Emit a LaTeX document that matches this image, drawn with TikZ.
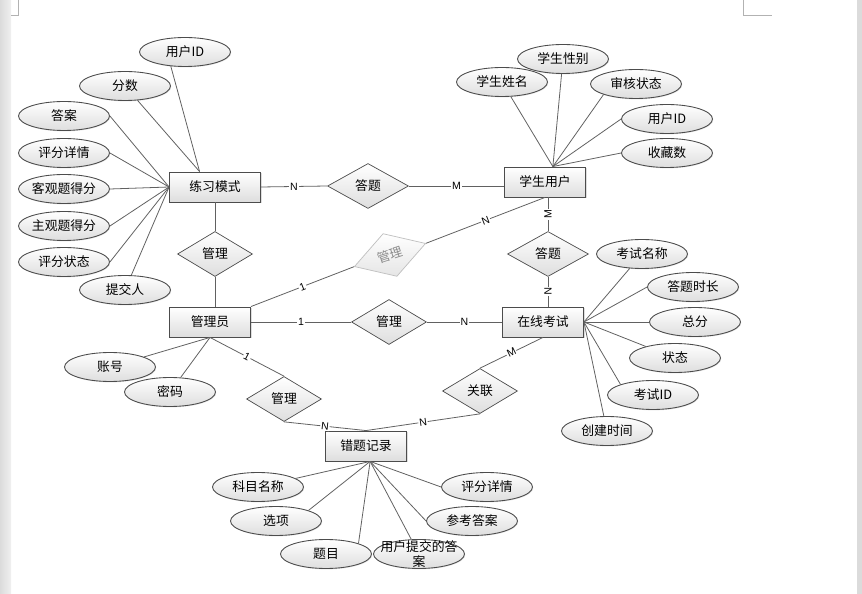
\documentclass[tikz,border=0pt]{standalone}
\usepackage{fontspec}
\setmainfont{Noto Sans CJK SC}
\newfontfamily\cardfont{Liberation Sans}
\usetikzlibrary{shapes.geometric,shadows}
\definecolor{LineClr}{rgb}{0.38,0.38,0.38}
\definecolor{EdgeClr}{rgb}{0.3,0.3,0.3}
\definecolor{ShadeClr}{rgb}{0.87,0.87,0.87}
\definecolor{FadeClr}{rgb}{0.75,0.75,0.75}
\definecolor{PageClr}{rgb}{0.86,0.86,0.86}

\begin{document}
\begin{tikzpicture}[x=0.02cm,y=-0.02cm,
  font=\fontsize{7.3}{8.6}\selectfont,
  ent/.style={rectangle,draw=EdgeClr,line width=0.5pt,top color=white,bottom color=ShadeClr,
    minimum width=1.62cm,minimum height=0.6cm,inner sep=0pt,
    drop shadow={shadow xshift=0.6pt,shadow yshift=-0.6pt,fill=black!25}},
  rel/.style={diamond,draw=EdgeClr,line width=0.4pt,top color=white,bottom color=ShadeClr,
    minimum width=1.5cm,minimum height=0.9cm,inner sep=0pt},
  faded/.style={draw=FadeClr,top color=white,bottom color=black!10,text=black!45},
  attr/.style={ellipse,draw=EdgeClr,line width=0.5pt,top color=white,bottom color=ShadeClr,
    minimum width=1.82cm,minimum height=0.58cm,inner sep=0pt,
    drop shadow={shadow xshift=0.4pt,shadow yshift=-0.5pt,fill=black!20}},
  card/.style={fill=white,inner sep=0.5pt,font=\cardfont\fontsize{6}{7}\selectfont},
  link/.style={draw=LineClr,line width=0.45pt}]

\useasboundingbox (0,0) rectangle (862,594);
\fill[white] (0,0) rectangle (862,594);
\shade[left color=PageClr,right color=black!6] (0,0) rectangle (11,594);
\fill[PageClr] (857,0) rectangle (862,594);
\draw[black!30,line width=0.4pt] (18,0) -- (18,15) -- (11,15);
\draw[black!30,line width=0.4pt] (743,0) -- (743,15) -- (772,15);

\node[ent,minimum width=1.82cm] (lx) at (215,187) {练习模式};
\node[ent] (xs) at (545,182) {学生用户};
\node[ent] (gly) at (210,322) {管理员};
\node[ent] (zx) at (543,322) {在线考试};
\node[ent] (ct) at (366,446) {错题记录};

\node[rel,minimum width=1.62cm] (dt1) at (368,186) {答题};
\node[rel] (gl1) at (215,254) {管理};
\node[rel,faded,rotate=18] (gl2) at (390,255) {管理};
\node[rel,minimum width=1.62cm] (dt2) at (548,254) {答题};
\node[rel] (gl3) at (389,322) {管理};
\node[rel] (gl4) at (284,399) {管理};
\node[rel] (gll) at (480,391) {关联};

\node[attr] (a1) at (185,52) {用户ID};
\node[attr] (a2) at (125,86) {分数};
\node[attr] (a3) at (64,116) {答案};
\node[attr] (a4) at (64,153) {评分详情};
\node[attr] (a5) at (64,189) {客观题得分};
\node[attr] (a6) at (64,226) {主观题得分};
\node[attr] (a7) at (64,262) {评分状态};
\node[attr] (a8) at (125,290) {提交人};

\node[attr] (b1) at (502,82) {学生姓名};
\node[attr] (b2) at (563,59) {学生性别};
\node[attr] (b3) at (636,84) {审核状态};
\node[attr] (b4) at (667,119) {用户ID};
\node[attr] (b5) at (667,153) {收藏数};

\node[attr] (c1) at (642,254) {考试名称};
\node[attr] (c2) at (693,287) {答题时长};
\node[attr] (c3) at (695,322) {总分};
\node[attr] (c4) at (675,358) {状态};
\node[attr] (c5) at (653,395) {考试ID};
\node[attr] (c6) at (607,431) {创建时间};

\node[attr] (d1) at (110,367) {账号};
\node[attr] (d2) at (170,392) {密码};

\node[attr] (e1) at (258,487) {科目名称};
\node[attr] (e2) at (276,521) {选项};
\node[attr] (e3) at (326,554) {题目};
\node[attr,label={[align=center]center:用户提交的答\\案}] (e4) at (419,554) {};
\node[attr] (e5) at (472,521) {参考答案};
\node[attr] (e6) at (487,487) {评分详情};

\draw[link] (a1.-135) -- (lx.135);
\draw[link] (a2) -- (lx.135);
\foreach \a in {a3,a4,a5,a6,a7}
  \draw[link] (\a.east) -- (lx.west);
\draw[link] (a8) -- (lx.west);

\draw[link] (b1) -- (xs.63);
\draw[link] (b2) -- (xs.63);
\draw[link] (b3.south west) -- (xs.63);
\draw[link] (b4.west) -- (xs.63);
\draw[link] (b5.west) -- (xs.63);

\draw[link] (c1) -- (zx.east);
\draw[link] (c2.west) -- (zx.east);
\draw[link] (c3.west) -- (zx.east);
\draw[link] (c4) -- (zx.east);
\draw[link] (c5.north west) -- (zx.east);
\draw[link] (c6) -- (zx.east);

\draw[link] (d1) -- (gly.south);
\draw[link] (d2) -- (gly.south);

\draw[link] (e1) -- (ct.-75);
\draw[link] (e2.north east) -- (ct.-75);
\draw[link] (e3.north east) -- (ct.-75);
\draw[link] (e4) -- (ct.-75);
\draw[link] (e5.west) -- (ct.-75);
\draw[link] (e6.west) -- (ct.-75);

\draw[link] (lx.east) -- node[card]{N} (dt1.west);
\draw[link] (dt1.east) -- node[card]{M} (dt1.east -| xs.west);
\draw[link] (dt2.north) -- node[card,sloped]{M} (dt2.north |- xs.south);
\draw[link] (dt2.south) -- node[card,sloped]{N} (dt2.south |- zx.north);

\draw[link] (gl1.north) -- (lx.south);
\draw[link] (gl1.south) -- (gl1.south |- gly.north);
\draw[link] (gly.north east) -- node[card,sloped]{1} (gl2.west);
\draw[link] (gl2.east) -- node[card,sloped]{N} (xs.south);

\draw[link] (gly.east) -- node[card]{1} (gl3.west);
\draw[link] (gl3.east) -- node[card]{N} (zx.west);
\draw[link] (gly.south) -- node[card,sloped]{1} (gl4.north);
\draw[link] (gl4.south) -- node[card,sloped]{N} (ct.north);
\draw[link] (zx.south) -- node[card,sloped]{M} (gll.north);
\draw[link] (gll.south) -- node[card,sloped]{N} (ct.north);

\end{tikzpicture}
\end{document}
